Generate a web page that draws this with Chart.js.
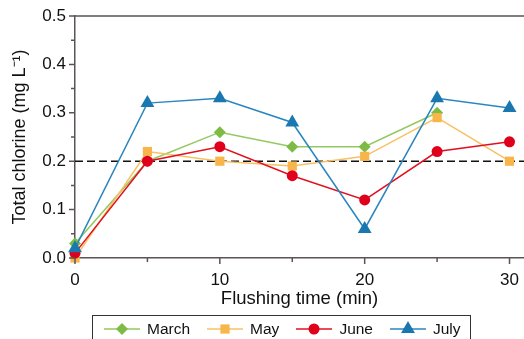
<!DOCTYPE html>
<html>
<head>
<meta charset="utf-8">
<script src="https://cdn.jsdelivr.net/npm/chart.js@4"></script>
<style>
  html, body { margin: 0; padding: 0; background: #fff; }
  #wrap { position: relative; width: 524px; height: 339px; overflow: hidden; }
  #legend {
    position: absolute; left: 92px; top: 315px; width: 366px;
    border: 1px solid #333; box-sizing: content-box;
    display: flex; align-items: center; height: 18px; padding: 4px 0 20px 11px;
    font: 15.5px "Liberation Sans", Arial, sans-serif; color: #111;
  }
  .lg-item { display: flex; align-items: center; margin-right: 17px; }
  .lg-item canvas { margin-right: 7px; }
</style>
</head>
<body>
<div id="wrap">
  <canvas id="c" width="524" height="339"></canvas>
  <div id="legend"></div>
</div>
<script>
// ── data ──
const times   = [0, 5, 10, 15, 20, 25, 30];
const march   = [0.03, 0.20, 0.26, 0.23, 0.23, 0.30, null];
const may     = [0.00, 0.22, 0.20, 0.19, 0.21, 0.29, 0.20];
const june    = [0.01, 0.20, 0.23, 0.17, 0.12, 0.22, 0.24];
const july    = [0.02, 0.32, 0.33, 0.28, 0.06, 0.33, 0.31];
const limit   = 0.2;
const xTicks  = [0, 5, 10, 15, 20, 25, 30];
const yTicks  = [0, 0.05, 0.1, 0.15, 0.2, 0.25, 0.3, 0.35, 0.4, 0.45, 0.5];

const AXIS = '#5a5454';
const FONT = '"Liberation Sans", Arial, sans-serif';

const series = [
  { label: 'March', data: march, line: '#93c95f', point: '#7dbb45', style: 'rectRot',  r: 6,   order: 3 },
  { label: 'May',   data: may,   line: '#f8c163', point: '#f7b54a', style: 'rect',     r: 6.5, order: 2 },
  { label: 'June',  data: june,  line: '#e2101f', point: '#e0001b', style: 'circle',   r: 5.5, order: 1 },
  { label: 'July',  data: july,  line: '#2a86bf', point: '#1a78b0', style: 'triangle', r: 8,   order: 0 }
];

const toXY = arr => times.map((t, i) => ({ x: t, y: arr[i] })).filter(p => p.y !== null);

const datasets = series.map(s => ({
  label: s.label,
  data: toXY(s.data),
  borderColor: s.line,
  borderWidth: 1.5,
  backgroundColor: s.point,
  pointBackgroundColor: s.point,
  pointBorderColor: s.point,
  pointBorderWidth: 0,
  pointStyle: s.style,
  pointRadius: s.r,
  pointHoverRadius: s.r,
  tension: 0,
  clip: false,
  order: s.order
}));

datasets.push({
  label: 'limit',
  data: [{ x: 0, y: limit }, { x: 31, y: limit }],
  borderColor: '#111',
  borderWidth: 1.5,
  borderDash: [8, 4],
  pointRadius: 0,
  clip: false,
  order: 9
});

// ticks drawn outward, major longer than minor, plus the top frame line
const frame = {
  id: 'frame',
  afterDraw(chart) {
    const { ctx, chartArea: a, scales } = chart;
    ctx.save();
    ctx.strokeStyle = AXIS;
    ctx.lineWidth = 1.5;
    ctx.beginPath();
    ctx.moveTo(a.left, a.top);
    ctx.lineTo(a.right, a.top);
    scales.x.ticks.forEach(t => {
      const px = scales.x.getPixelForValue(t.value);
      const len = t.value % 10 === 0 ? 6 : 4;
      ctx.moveTo(px, a.bottom);
      ctx.lineTo(px, a.bottom + len);
    });
    scales.y.ticks.forEach(t => {
      const py = scales.y.getPixelForValue(t.value);
      const len = Math.round(t.value * 100) % 10 === 0 ? 6 : 4;
      ctx.moveTo(a.left, py);
      ctx.lineTo(a.left - len, py);
    });
    ctx.stroke();
    ctx.restore();
  }
};

new Chart(document.getElementById('c'), {
  type: 'line',
  data: { datasets },
  options: {
    responsive: false,
    animation: false,
    layout: { autoPadding: false, padding: { top: 16, right: 0, left: 0, bottom: 0 } },
    plugins: { legend: { display: false }, tooltip: { enabled: false } },
    scales: {
      x: {
        type: 'linear',
        min: 0,
        max: 31,
        afterBuildTicks: s => { s.ticks = xTicks.map(v => ({ value: v })); },
        afterFit: s => { s.height = 81; s.paddingRight = 0; s.paddingLeft = 0; },
        grid: { display: false, drawTicks: false },
        border: { display: true, color: AXIS, width: 1.5 },
        ticks: {
          autoSkip: false, maxRotation: 0, padding: 12, color: '#111',
          font: { family: FONT, size: 17 },
          callback: v => (v % 10 === 0 ? String(v) : '')
        },
        title: {
          display: true, text: 'Flushing time (min)', color: '#111',
          font: { family: FONT, size: 18.5 }, padding: { top: 0, bottom: 29 }
        }
      },
      y: {
        min: 0,
        max: 0.5,
        afterBuildTicks: s => { s.ticks = yTicks.map(v => ({ value: v })); },
        afterFit: s => { s.width = 75; s.paddingTop = 0; s.paddingBottom = 0; },
        grid: { display: false, drawTicks: false },
        border: { display: true, color: AXIS, width: 1.5 },
        ticks: {
          autoSkip: false, padding: 9, color: '#111',
          font: { family: FONT, size: 17 },
          callback: v => (Math.round(v * 100) % 10 === 0 ? v.toFixed(1) : '')
        },
        title: {
          display: true, text: 'Total chlorine (mg L\u207B\u00B9)', color: '#111',
          font: { family: FONT, size: 18 }, padding: { top: 9, bottom: 0 }
        }
      }
    }
  },
  plugins: [frame]
});

// ── legend: line + marker, same styles as the chart ──
const legend = document.getElementById('legend');
series.forEach(s => {
  const item = document.createElement('div');
  item.className = 'lg-item';
  const cv = document.createElement('canvas');
  cv.width = 36; cv.height = 18;
  const g = cv.getContext('2d');
  g.strokeStyle = s.line; g.lineWidth = 1.5;
  g.beginPath(); g.moveTo(0, 9); g.lineTo(36, 9); g.stroke();
  g.fillStyle = s.point; g.strokeStyle = s.point;
  Chart.helpers.drawPoint(g, { pointStyle: s.style, radius: s.r, rotation: 0, borderWidth: 0 }, 18, 9);
  const txt = document.createElement('span');
  txt.textContent = s.label;
  item.appendChild(cv); item.appendChild(txt);
  legend.appendChild(item);
});
</script>
</body>
</html>
